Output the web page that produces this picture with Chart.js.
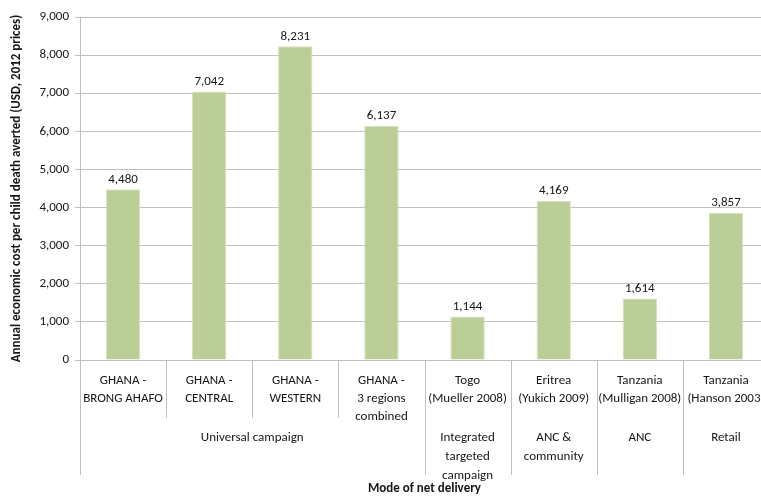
<!DOCTYPE html>
<html>
<head>
<meta charset="utf-8">
<script src="https://cdn.jsdelivr.net/npm/chart.js@4"></script>
<style>
  html, body { margin: 0; padding: 0; overflow: hidden; background: #fff; }
  #c { display: block; }
</style>
</head>
<body>
<canvas id="c" width="769" height="499" style="width:769px;height:499px"></canvas>
<script>
const categories = [
  ["GHANA -", "BRONG AHAFO"],
  ["GHANA -", "CENTRAL"],
  ["GHANA -", "WESTERN"],
  ["GHANA -", "3 regions", "combined"],
  ["Togo", "(Mueller 2008)"],
  ["Eritrea", "(Yukich 2009)"],
  ["Tanzania", "(Mulligan 2008)"],
  ["Tanzania", "(Hanson 2003)"]
];
const costValues = [4480, 7042, 8231, 6137, 1144, 4169, 1614, 3857];
const groups = [
  { label: ["Universal campaign"], start: 0, end: 3 },
  { label: ["Integrated", "targeted", "campaign"], start: 4, end: 4 },
  { label: ["ANC &", "community"], start: 5, end: 5 },
  { label: ["ANC"], start: 6, end: 6 },
  { label: ["Retail"], start: 7, end: 7 }
];
const yTicks = [0, 1000, 2000, 3000, 4000, 5000, 6000, 7000, 8000, 9000];

const FONT = "Carlito, Lato, 'Open Sans', sans-serif";
const TXT = '#161616';
const LINE = '#c0c0c0';
const FS = 13;

const groupPlugin = {
  id: 'groupPlugin',
  afterDraw(chart) {
    const ctx = chart.ctx;
    const xs = chart.scales.x;
    const half = (xs.getPixelForValue(1) - xs.getPixelForValue(0)) / 2;
    const top = xs.top;
    const groupStarts = new Set();
    groups.forEach(g => { groupStarts.add(g.start); groupStarts.add(g.end + 1); });
    ctx.save();
    ctx.strokeStyle = LINE;
    ctx.lineWidth = 1;
    for (let i = 0; i <= categories.length; i++) {
      const x = Math.round(xs.getPixelForValue(i) - half) + 0.5;
      const len = groupStarts.has(i) ? 115 : 58;
      ctx.beginPath();
      ctx.moveTo(x, top);
      ctx.lineTo(x, top + len);
      ctx.stroke();
    }
    ctx.fillStyle = TXT;
    ctx.font = FS + "px " + FONT;
    ctx.textAlign = 'center';
    ctx.textBaseline = 'middle';
    groups.forEach(g => {
      const cx = (xs.getPixelForValue(g.start) + xs.getPixelForValue(g.end)) / 2;
      g.label.forEach((t, k) => ctx.fillText(t, cx, top + 78 + k * 19));
    });
    const meta = chart.getDatasetMeta(0);
    meta.data.forEach((bar, i) => {
      ctx.fillText(costValues[i].toLocaleString('en-US'), bar.x, bar.y - 10);
    });
    ctx.restore();
  }
};

new Chart(document.getElementById('c'), {
  type: 'bar',
  data: {
    labels: categories,
    datasets: [{
      data: costValues,
      backgroundColor: '#BBCE97',
      borderColor: '#D6E2C2',
      borderWidth: 1,
      barPercentage: 0.4,
      categoryPercentage: 1.0
    }]
  },
  options: {
    responsive: false,
    maintainAspectRatio: false,
    animation: false,
    devicePixelRatio: 1,
    layout: { padding: { top: 17, right: 0, left: 0, bottom: 0 } },
    plugins: { legend: { display: false }, tooltip: { enabled: false } },
    scales: {
      x: {
        afterFit(s) { s.height = 139; },
        grid: { display: false },
        border: { display: true, color: LINE },
        ticks: {
          color: TXT,
          font: { family: FONT, size: FS, lineHeight: 1.38 },
          padding: 4,
          maxRotation: 0,
          autoSkip: false
        },
        title: {
          display: true,
          text: 'Mode of net delivery',
          color: TXT,
          font: { family: FONT, size: FS, weight: 'bold' },
          padding: { top: 0, bottom: 2 }
        }
      },
      y: {
        min: 0,
        max: 9000,
        afterFit(s) { s.width = 80; },
        afterBuildTicks(s) { s.ticks = yTicks.map(v => ({ value: v })); },
        grid: { color: LINE, tickLength: 5 },
        border: { display: true, color: LINE },
        ticks: {
          color: TXT,
          font: { family: FONT, size: FS },
          padding: 6,
          callback: v => v.toLocaleString('en-US')
        },
        title: {
          display: true,
          text: 'Annual economic cost per child death averted (USD, 2012 prices)',
          color: TXT,
          font: { family: FONT, size: 13, weight: 'bold' },
          padding: { top: 9, bottom: 0 }
        }
      }
    }
  },
  plugins: [groupPlugin]
});
</script>
</body>
</html>
